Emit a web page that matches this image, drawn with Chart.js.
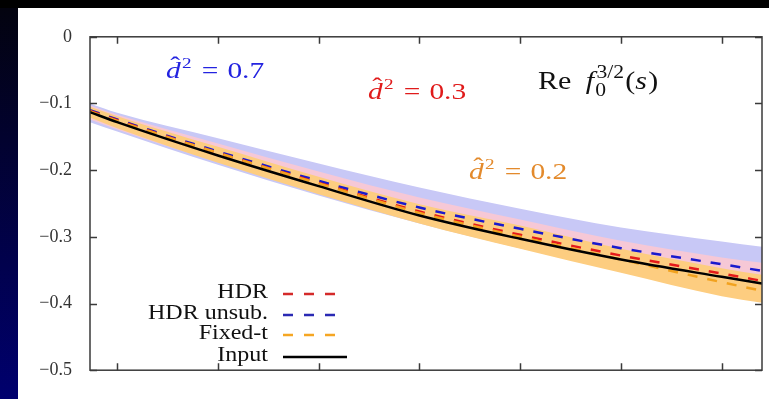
<!DOCTYPE html>
<html>
<head>
<meta charset="utf-8">
<script src="https://cdn.jsdelivr.net/npm/chart.js@4.4.1/dist/chart.umd.min.js"></script>
<style>
  html, body { margin: 0; padding: 0; background: #000; }
  body { width: 769px; height: 399px; position: relative; overflow: hidden; }
  #strip { position: absolute; left: 0; top: 8px; width: 18px; height: 391px;
           background: linear-gradient(to bottom, #03030f, #00006e); }
  #panel { position: absolute; left: 18px; top: 8px; width: 751px; height: 391px; background: #fff; }
</style>
</head>
<body>
<div id="strip"></div>
<div id="panel"><canvas id="chart" width="751" height="391"></canvas></div>
<script>
// x positions (arbitrary s units, ticks at integers)
const sValues = [-0.27, 0, 1, 2, 3, 4, 5, 6, 6.4];
const xTickValues = [0, 1, 2, 3, 4, 5, 6];

// curves
const inputCurve    = [-0.113, -0.128, -0.178, -0.224, -0.268, -0.303, -0.334, -0.360, -0.370];
const hdrCurve      = [-0.111, -0.125, -0.174, -0.219, -0.262, -0.297, -0.328, -0.355, -0.366];
const hdrUnsubCurve = [-0.110, -0.124, -0.172, -0.216, -0.256, -0.288, -0.317, -0.341, -0.351];
const fixedTCurve   = [-0.112, -0.126, -0.174, -0.220, -0.264, -0.300, -0.334, -0.368, -0.381];

// error bands, d^2 = 0.7 / 0.3 / 0.2
const band07Upper = [-0.100, -0.114, -0.152, -0.190, -0.226, -0.258, -0.286, -0.307, -0.315];
const band07Lower = [-0.128, -0.142, -0.192, -0.238, -0.280, -0.317, -0.350, -0.376, -0.384];
const band03Upper = [-0.103, -0.117, -0.160, -0.202, -0.241, -0.274, -0.306, -0.331, -0.339];
const band03Lower = [-0.124, -0.139, -0.188, -0.233, -0.276, -0.312, -0.346, -0.374, -0.382];
const band02Upper = [-0.105, -0.119, -0.165, -0.210, -0.251, -0.283, -0.318, -0.347, -0.357];
const band02Lower = [-0.121, -0.137, -0.189, -0.236, -0.280, -0.318, -0.354, -0.389, -0.399];

const legendLabels = ['HDR', 'HDR unsub.', 'Fixed-t', 'Input'];
const legendColors = ['#d42a2a', '#2a2ab4', '#f5a623', '#000000'];

const SERIF = '"Liberation Serif", "DejaVu Serif", serif';

const pts = (ys) => sValues.map((x, i) => ({ x: x, y: ys[i] }));

function band(ys, color, fill, order) {
  return {
    data: pts(ys), fill: fill, backgroundColor: color, borderWidth: 0,
    pointRadius: 0, order: order, cubicInterpolationMode: 'monotone'
  };
}
function curve(ys, color, dashed, order) {
  return {
    data: pts(ys), fill: false, borderColor: color, borderWidth: 2.5,
    borderDash: dashed ? [10, 10] : [], pointRadius: 0, order: order,
    cubicInterpolationMode: 'monotone'
  };
}

// draws a row of text runs, optional horizontal stretch
function drawRuns(ctx, x, y, runs, stretch, color) {
  ctx.save();
  ctx.translate(x, y);
  ctx.scale(stretch, 1);
  ctx.fillStyle = color;
  ctx.textBaseline = 'alphabetic';
  ctx.textAlign = 'left';
  let cx = 0;
  runs.forEach((r) => {
    cx += r.gap || 0;
    ctx.font = (r.italic ? 'italic ' : '') + r.size + 'px ' + SERIF;
    ctx.fillText(r.t, cx, r.dy || 0);
    const w = ctx.measureText(r.t).width;
    if (r.hat) {
      ctx.font = r.size + 'px ' + SERIF;
      const hw = ctx.measureText('\u02C6').width;
      ctx.fillText('\u02C6', cx + w * 0.62 - hw / 2, -r.size * 0.2);
    }
    if (!r.noAdvance) cx += w;
  });
  ctx.restore();
}

function dLabel(ctx, x, y, value, color) {
  drawRuns(ctx, x, y, [
    { t: 'd', size: 23, italic: true, hat: true },
    { t: '2', size: 15, dy: -10, gap: 1 },
    { t: '=', size: 23, gap: 8 },
    { t: value, size: 23, gap: 7 }
  ], 1.28, color);
}

const decorPlugin = {
  id: 'decor',
  afterDatasetsDraw(chart) {
    const ctx = chart.ctx;
    const a = chart.chartArea;
    const xs = chart.scales.x, ys = chart.scales.y;
    ctx.save();
    ctx.strokeStyle = '#3a3a3a';
    ctx.lineWidth = 1.5;
    ctx.strokeRect(a.left, a.top, a.right - a.left, a.bottom - a.top);
    ctx.beginPath();
    xTickValues.forEach((v) => {
      const px = Math.round(xs.getPixelForValue(v)) + 0.5;
      ctx.moveTo(px, a.bottom); ctx.lineTo(px, a.bottom - 7);
      ctx.moveTo(px, a.top); ctx.lineTo(px, a.top + 7);
    });
    ys.ticks.forEach((t) => {
      const py = Math.round(ys.getPixelForValue(t.value)) + 0.5;
      ctx.moveTo(a.left, py); ctx.lineTo(a.left + 7, py);
      ctx.moveTo(a.right, py); ctx.lineTo(a.right - 7, py);
    });
    ctx.stroke();
    ctx.restore();
  },
  afterDraw(chart) {
    const ctx = chart.ctx;
    dLabel(ctx, 148, 70, '0.7', '#2323e0');
    dLabel(ctx, 350, 91, '0.3', '#e01b1b');
    dLabel(ctx, 451, 171, '0.2', '#e38a2c');

    drawRuns(ctx, 520, 81, [
      { t: 'Re', size: 25 },
      { t: 'f', size: 25, italic: true, gap: 12 },
      { t: '0', size: 18, dy: 7, gap: 1, noAdvance: true },
      { t: '3/2', size: 18, dy: -11, gap: 1 },
      { t: '(', size: 25, gap: 1 },
      { t: 's', size: 25, italic: true },
      { t: ')', size: 25, gap: 1 }
    ], 1.2, '#111');

    // legend: text right aligned, line sample to the right
    const rows = [284, 305, 325, 347];
    legendLabels.forEach((lab, i) => {
      ctx.save();
      ctx.translate(250, rows[i]);
      ctx.scale(1.2, 1);
      ctx.font = '20px ' + SERIF;
      ctx.fillStyle = '#111';
      ctx.textAlign = 'right';
      ctx.textBaseline = 'middle';
      ctx.fillText(lab, 0, 1);
      ctx.restore();
      ctx.save();
      ctx.strokeStyle = legendColors[i];
      ctx.lineWidth = 2.5;
      const last = i === legendLabels.length - 1;
      ctx.setLineDash(last ? [] : [10, 11]);
      ctx.beginPath();
      ctx.moveTo(265, rows[i] + 2);
      ctx.lineTo(last ? 329 : 317, rows[i] + 2);
      ctx.stroke();
      ctx.restore();
    });
  }
};

new Chart(document.getElementById('chart'), {
  type: 'line',
  data: {
    datasets: [
      band(band07Upper, '#c8c8f6', '+1', 9),
      band(band07Lower, '#c8c8f6', false, 9),
      band(band03Upper, '#f6c8d6', '+1', 7),
      band(band03Lower, '#f6c8d6', false, 7),
      band(band02Upper, '#fdcd80', '+1', 5),
      band(band02Lower, '#fdcd80', false, 5),
      curve(hdrUnsubCurve, '#1a1acd', true, 3),
      curve(hdrCurve, '#e41a1a', true, 2),
      curve(fixedTCurve, '#f2a21e', true, 1),
      curve(inputCurve, '#000000', false, 0)
    ]
  },
  options: {
    responsive: false,
    animation: false,
    layout: { padding: { left: 0, top: 28, right: 7, bottom: 28 } },
    plugins: { legend: { display: false }, tooltip: { enabled: false } },
    scales: {
      x: { type: 'linear', display: false, min: -0.27, max: 6.4 },
      y: {
        min: -0.5, max: 0,
        grid: { display: false, drawTicks: false },
        border: { display: false },
        afterFit: (scale) => { scale.width = 72; },
        ticks: {
          stepSize: 0.1, padding: 18, color: '#333',
          font: { family: SERIF, size: 18 },
          callback: (v) => (Math.abs(v) < 1e-9 ? '0' : '\u2212' + Math.abs(v).toFixed(1))
        }
      }
    }
  },
  plugins: [decorPlugin]
});
</script>
</body>
</html>
